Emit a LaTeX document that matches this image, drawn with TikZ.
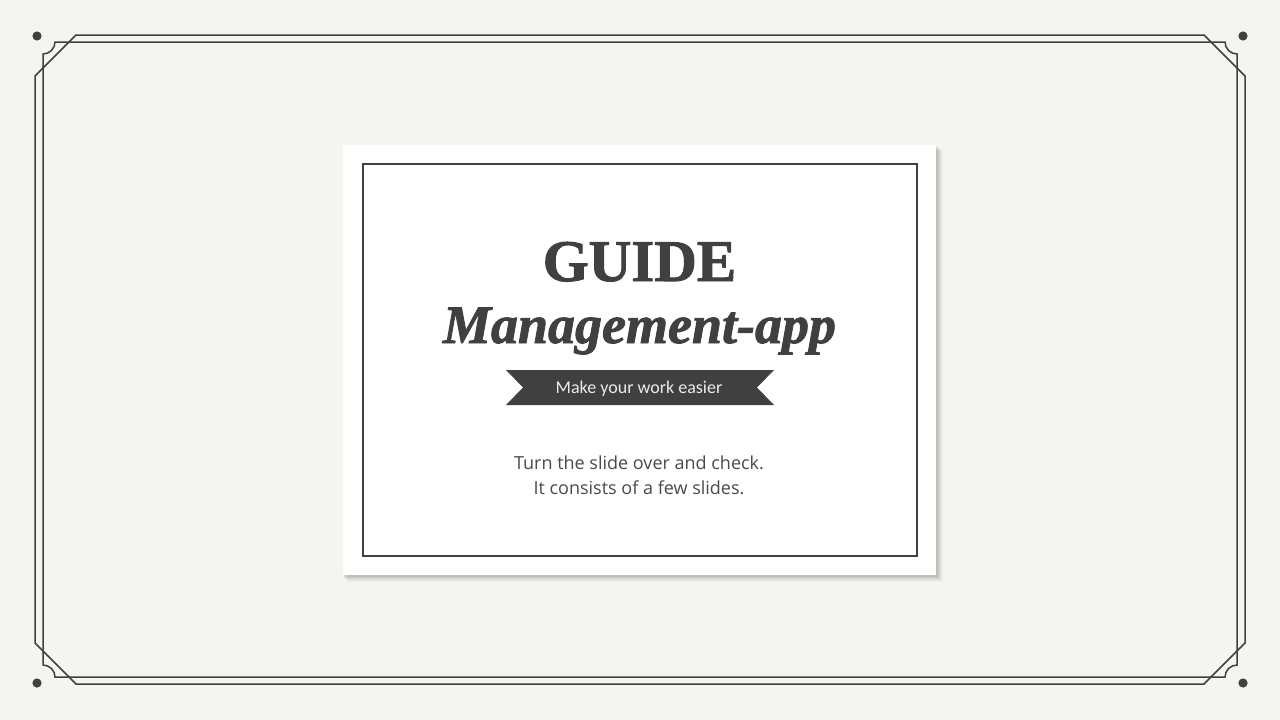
\documentclass[tikz,border=0pt]{standalone}
\usepackage{fontspec}
\setmainfont{Liberation Serif}
\newfontfamily\fatfont[FakeBold=1.6]{Liberation Serif Bold}
\newfontfamily\fatit[FakeBold=1.6]{Liberation Serif Bold Italic}
\newfontfamily\ribbonfont{Carlito}
\newfontfamily\bodyfont{Open Sans}
\definecolor{bgc}{HTML}{F4F5F0}
\definecolor{ink}{HTML}{404040}
\definecolor{bodyc}{HTML}{4A4A4A}
\tikzset{
  frameline/.style={draw=ink, line width=1.5pt},
  dotmark/.style={fill=ink, draw=none},
  titlebig/.style={font=\fatfont\fontsize{59}{62}\selectfont, text=ink, anchor=base, inner sep=0pt},
  titleit/.style={font=\fatit\fontsize{54}{58}\selectfont, text=ink, anchor=base, inner sep=0pt},
  ribbontext/.style={font=\ribbonfont\fontsize{18}{20}\selectfont, text=white!92!black, anchor=base, inner sep=0pt},
  bodytext/.style={font=\bodyfont\fontsize{18}{20}\selectfont, text=bodyc, anchor=base, inner sep=0pt},
}
\begin{document}
\begin{tikzpicture}[x=1pt,y=-1pt]
\useasboundingbox (0,0) rectangle (1280,720);
\fill[bgc] (0,0) rectangle (1280,720);
% outer chamfered frame
\draw[frameline] (76,35) -- (1204,35) -- (1245,76) -- (1245,643) -- (1204,684) -- (76,684) -- (35,643) -- (35,76) -- cycle;
% inner frame with concave corners
\draw[frameline] (55,42) -- (1225,42)
  .. controls (1225,48.6) and (1230.4,54) .. (1237,54) -- (1237,665)
  .. controls (1230.4,665) and (1225,670.4) .. (1225,677) -- (55,677)
  .. controls (55,670.4) and (49.6,665) .. (43,665) -- (43,54)
  .. controls (49.6,54) and (55,48.6) .. (55,42) -- cycle;
% corner dots
\fill[dotmark] (37,36) circle (4.6);
\fill[dotmark] (1243,36) circle (4.6);
\fill[dotmark] (37,683) circle (4.6);
\fill[dotmark] (1243,683) circle (4.6);
% card shadow
\foreach \o/\a in {7/0.02,6/0.03,5/0.035,4/0.04,3/0.05,2/0.05}{
  \fill[black, opacity=\a] (343+\o-2,145+\o-1) rectangle (936+\o,575+\o);
}
% card
\fill[white] (343,145) rectangle (936,575);
\draw[draw=ink, line width=2.2pt] (363,164) rectangle (917,556);
% titles
\node[titlebig] (guide) at (639.5,281) {GUIDE};
\node[titleit] (mgmt) at (639.5,343) {Management-app};
% ribbon
\fill[ink] (506,370) -- (774,370) -- (757,387.5) -- (774,405) -- (506,405) -- (523,387.5) -- cycle;
\node[ribbontext] (tag) at (639,393) {Make your work easier};
% body
\node[bodytext] (l1) at (639,469) {Turn the slide over and check.};
\node[bodytext] (l2) at (639,494) {It consists of a few slides.};
\end{tikzpicture}
\end{document}
